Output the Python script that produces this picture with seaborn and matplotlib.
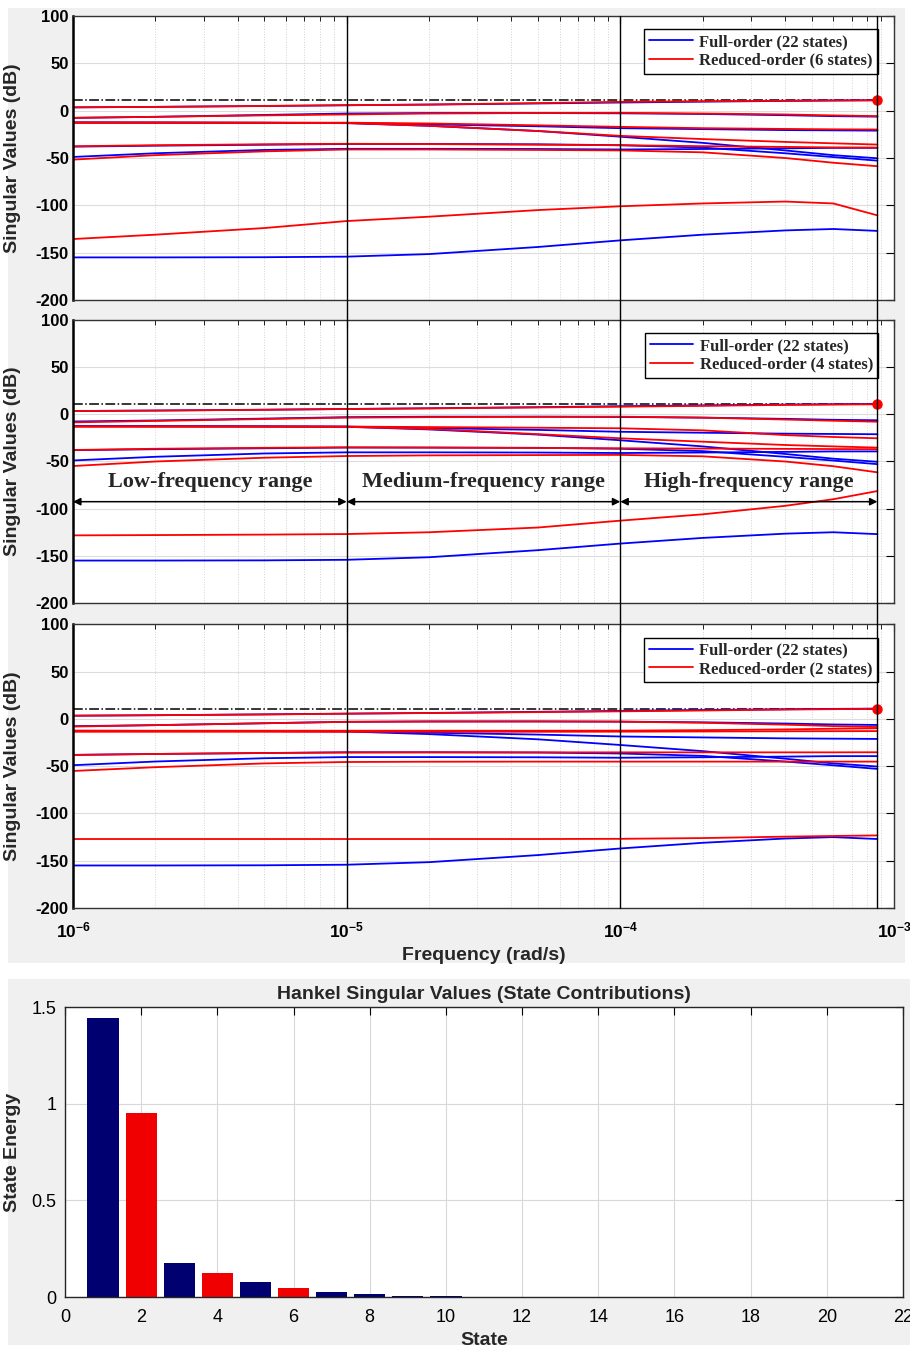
import numpy as np
import pandas as pd
import matplotlib
matplotlib.use("Agg")
import matplotlib.pyplot as plt
import seaborn as sns
from matplotlib.lines import Line2D
from matplotlib.patches import Rectangle
from matplotlib.transforms import blended_transform_factory
from matplotlib.ticker import LogLocator, NullFormatter
from matplotlib.font_manager import FontProperties

# ---------------- data ----------------
freq = [1e-6, 2e-6, 5e-6, 1e-5, 2e-5, 5e-5, 1e-4, 2e-4, 4e-4, 6e-4, 8.7e-4]

# full-order model singular values (dB), same in all three panels
full_sv1 = [3.5, 4.0, 4.9, 5.7, 6.4, 7.6, 8.6, 9.5, 10.3, 10.7, 11.0]
full_sv2 = [-7.6, -6.5, -4.5, -3.0, -2.5, -2.5, -2.8, -3.5, -4.8, -5.8, -6.3]
full_sv3 = [-12.5, -12.6, -12.8, -13.0, -14.5, -16.5, -18.5, -19.5, -20.5, -20.8, -21.1]
full_sv4 = [-12.5, -12.6, -12.8, -13.2, -16.0, -21.5, -27.5, -34.0, -42.0, -47.0, -50.3]
full_sv5 = [-38.0, -37.0, -36.0, -35.2, -35.2, -35.5, -36.5, -39.0, -45.0, -49.0, -52.8]
full_sv6 = [-48.9, -45.0, -41.5, -40.3, -40.3, -40.5, -41.0, -40.5, -39.8, -39.3, -39.3]
full_sv7 = [-155.0, -155.0, -154.8, -154.2, -151.5, -144.0, -137.0, -131.0, -126.5, -125.0, -127.0]

# reduced-order model, 6 states
red6_sv1 = [3.5, 4.0, 5.0, 5.8, 6.5, 8.0, 9.3, 10.0, 10.5, 10.8, 11.0]
red6_sv2 = [-7.6, -6.5, -5.0, -4.0, -3.0, -2.5, -2.3, -3.0, -4.0, -5.0, -5.8]
red6_sv3 = [-12.5, -12.5, -12.6, -12.7, -13.5, -15.5, -17.1, -18.5, -19.3, -19.7, -19.9]
red6_sv4 = [-12.8, -12.8, -12.9, -13.0, -16.0, -21.5, -26.6, -30.0, -33.0, -34.5, -35.8]
red6_sv5 = [-37.6, -36.5, -35.5, -35.0, -35.3, -36.0, -36.5, -37.5, -38.3, -38.8, -39.0]
red6_sv6 = [-51.7, -47.0, -43.0, -41.0, -41.0, -41.5, -42.0, -44.0, -50.0, -55.0, -58.7]
red6_sv7 = [-135.6, -131.0, -124.0, -116.6, -112.0, -105.0, -101.0, -98.0, -96.0, -98.0, -110.6]

# reduced-order model, 4 states
red4_sv1 = [3.5, 4.0, 4.8, 5.6, 6.3, 7.3, 8.1, 9.0, 10.0, 10.4, 10.6]
red4_sv2 = [-8.5, -7.0, -5.0, -3.5, -3.0, -2.6, -2.5, -3.5, -5.5, -6.8, -7.8]
red4_sv3 = [-13.0, -13.0, -13.0, -13.0, -13.5, -14.2, -14.8, -17.0, -22.0, -24.0, -25.4]
red4_sv4 = [-13.0, -13.0, -13.0, -13.2, -15.5, -21.0, -25.4, -29.0, -32.5, -34.0, -35.3]
red4_sv5 = [-37.8, -36.5, -35.5, -35.0, -35.3, -35.7, -36.0, -36.3, -36.6, -36.8, -37.0]
red4_sv6 = [-54.8, -50.0, -46.0, -44.2, -43.5, -43.2, -43.0, -44.5, -50.0, -55.0, -61.5]
red4_sv7 = [-128.3, -128.0, -127.5, -126.9, -125.0, -120.0, -112.7, -106.0, -97.0, -90.0, -81.3]

# reduced-order model, 2 states
red2_sv1 = [3.5, 4.0, 4.8, 5.6, 6.3, 7.3, 8.1, 9.0, 10.0, 10.4, 10.8]
red2_sv2 = [-8.0, -6.5, -4.5, -3.0, -2.8, -2.7, -2.8, -4.0, -6.0, -7.5, -8.5]
red2_sv3 = [-12.4, -12.4, -12.4, -12.4, -12.4, -12.4, -12.3, -11.8, -11.0, -10.3, -9.8]
red2_sv4 = [-13.5, -13.5, -13.5, -13.5, -13.5, -13.5, -13.4, -13.2, -13.0, -12.9, -12.8]
red2_sv5 = [-38.0, -37.0, -36.0, -35.5, -35.3, -35.3, -35.3, -35.3, -35.3, -35.3, -35.2]
red2_sv6 = [-55.0, -51.0, -47.0, -45.5, -45.2, -45.1, -45.1, -45.1, -45.1, -45.1, -45.1]
red2_sv7 = [-127.0, -127.0, -127.0, -127.0, -127.0, -127.0, -126.8, -126.0, -124.5, -123.8, -123.2]

full_order_states = 22
reduced_orders = [6, 4, 2]
peak_gain_db = 11.1
peak_freq = 8.7e-4

range_edges = [1e-6, 1e-5, 1e-4, 8.7e-4]
range_labels = ["Low-frequency range", "Medium-frequency range", "High-frequency range"]
range_arrow_db = -92.6
range_text_db = -71.4

# Hankel singular values
states = list(range(1, 23))
state_energy = [1.443, 0.952, 0.176, 0.122, 0.078, 0.047, 0.025, 0.014, 0.007, 0.003,
                0.002, 0.0015, 0.001, 0.001, 0.0008, 0.0006, 0.0005, 0.0004, 0.0003,
                0.0002, 0.0002, 0.0001]
highlighted_states = [2, 4, 6]

# ---------------- style ----------------
sns.set_style("white")
plt.rcParams["font.family"] = ["Liberation Sans", "DejaVu Sans"]
plt.rcParams["mathtext.fontset"] = "custom"
plt.rcParams["mathtext.rm"] = "Liberation Sans"
plt.rcParams["mathtext.bf"] = "Liberation Sans:bold"

BLUE = "#0000ff"
RED = "#ff0000"
NAVY = "#000070"
BARRED = "#f00000"
BG = "#f0f0f0"

fig = plt.figure(figsize=(9.1, 13.47), dpi=100)
W, H = 910.0, 1347.0

fig.add_artist(Rectangle((8 / W, 1 - 963 / H), 897 / W, 955 / H,
                         transform=fig.transFigure, facecolor=BG, edgecolor="none", zorder=-5))
fig.add_artist(Rectangle((8 / W, 1 - 1345 / H), 902 / W, 366 / H,
                         transform=fig.transFigure, facecolor=BG, edgecolor="none", zorder=-5))

def axes_px(left, top, right, bottom):
    return fig.add_axes([left / W, 1 - bottom / H, (right - left) / W, (bottom - top) / H])

ax1 = axes_px(73, 16, 894, 300)
ax2 = axes_px(73, 320, 894, 603)
ax3 = axes_px(73, 624.5, 894, 908)
ax4 = axes_px(65, 1007, 903, 1297)

full_curves = [full_sv1, full_sv2, full_sv3, full_sv4, full_sv5, full_sv6, full_sv7]
reduced_sets = [
    [red6_sv1, red6_sv2, red6_sv3, red6_sv4, red6_sv5, red6_sv6, red6_sv7],
    [red4_sv1, red4_sv2, red4_sv3, red4_sv4, red4_sv5, red4_sv6, red4_sv7],
    [red2_sv1, red2_sv2, red2_sv3, red2_sv4, red2_sv5, red2_sv6, red2_sv7],
]

legend_font = FontProperties(family="Liberation Serif", weight="bold", size=12)

def long_df(curves, tag):
    rows = []
    for i, sv in enumerate(curves):
        for f, v in zip(freq, sv):
            rows.append({"freq": f, "sv": v, "curve": f"{tag}{i}"})
    return pd.DataFrame(rows)

df_full = long_df(full_curves, "F")

for k, (ax, red_curves, n_red) in enumerate(zip([ax1, ax2, ax3], reduced_sets, reduced_orders)):
    ax.set_xscale("log")
    ax.set_facecolor("white")
    df_red = long_df(red_curves, "R")
    sns.lineplot(data=df_full, x="freq", y="sv", units="curve", estimator=None,
                 color=BLUE, lw=1.3, sort=False, legend=False, ax=ax)
    sns.lineplot(data=df_red, x="freq", y="sv", units="curve", estimator=None,
                 color=RED, lw=1.3, sort=False, legend=False, ax=ax)
    ax.plot([freq[0], peak_freq], [peak_gain_db, peak_gain_db], color="black",
            ls="-.", lw=1.1, zorder=1)
    ax.plot([peak_freq], [peak_gain_db], "o", color=RED, ms=6.5, zorder=4)

    ax.set_xlim(1e-6, 1e-3)
    ax.set_ylim(-200, 100)
    ax.set_yticks([100, 50, 0, -50, -100, -150, -200],
                  labels=["100", "50", "0", "-50", "-100", "-150", "-200"],
                  fontweight="bold", fontsize=12)
    decades = [1e-6, 1e-5, 1e-4, 1e-3]
    if k == 2:
        ax.set_xticks(decades, labels=[r"$\mathbf{10^{-6}}$", r"$\mathbf{10^{-5}}$",
                                       r"$\mathbf{10^{-4}}$", r"$\mathbf{10^{-3}}$"],
                      fontsize=12.5)
        ax.set_xlabel("Frequency (rad/s)", fontsize=14, fontweight="bold", labelpad=5)
    else:
        ax.set_xticks(decades, labels=[])
        ax.set_xlabel("")
    ax.xaxis.set_minor_locator(LogLocator(base=10, subs=np.arange(2, 10), numticks=20))
    ax.xaxis.set_minor_formatter(NullFormatter())
    ax.set_ylabel("Singular Values (dB)", fontsize=14, fontweight="bold")
    ax.yaxis.set_label_coords(-0.063, 0.5)
    ax.tick_params(which="both", direction="in", top=True, right=True, colors="black")
    ax.tick_params(which="major", length=6, width=0.8)
    ax.tick_params(axis="y", which="major", pad=3)
    ax.tick_params(axis="x", which="major", pad=9)
    ax.tick_params(which="minor", length=3.5, width=0.6)
    ax.grid(which="major", axis="y", color="#dcdcdc", lw=0.8, ls="-")
    ax.grid(which="minor", axis="x", color="#d2d2d2", lw=0.7, ls=":")
    for s in ax.spines.values():
        s.set_color("#333333")
        s.set_linewidth(1.0)
    ax.spines["left"].set_color("black")
    ax.spines["left"].set_linewidth(1.8)

    handles = [Line2D([], [], color=BLUE, lw=1.3), Line2D([], [], color=RED, lw=1.3)]
    labels = [f"Full-order ({full_order_states} states)", f"Reduced-order ({n_red} states)"]
    leg = ax.legend(handles, labels, loc="upper right", bbox_to_anchor=(0.9805, 0.954),
                    borderaxespad=0, frameon=True, fancybox=False, edgecolor="black",
                    framealpha=1, prop=legend_font, handlelength=2.6, borderpad=0.3,
                    labelspacing=0.15, handletextpad=0.4)
    leg.get_frame().set_linewidth(1.0)

# frequency-range annotation in the middle panel
serif_bold = FontProperties(family="Liberation Serif", weight="bold", size=16)
for lo, hi, txt in zip(range_edges[:-1], range_edges[1:], range_labels):
    ax2.annotate("", xy=(hi, range_arrow_db), xytext=(lo, range_arrow_db),
                 arrowprops=dict(arrowstyle="<|-|>", color="black", lw=1.1,
                                 shrinkA=0, shrinkB=0, mutation_scale=11))
    ax2.text(np.sqrt(lo * hi), range_text_db, txt, ha="center", va="center",
             fontproperties=serif_bold)

# vertical range boundary lines across all three panels
y_top = ax1.get_position().y1
y_bot = ax3.get_position().y0
trans = blended_transform_factory(ax3.transData, fig.transFigure)
for xf in range_edges[1:]:
    fig.add_artist(Line2D([xf, xf], [y_bot, y_top], transform=trans,
                          color="black", lw=1.0, zorder=6))

# ---------------- Hankel singular values ----------------
bar_df = pd.DataFrame({
    "state": states,
    "energy": state_energy,
    "group": ["hi" if s in highlighted_states else "base" for s in states],
})
sns.barplot(data=bar_df, x="state", y="energy", hue="group", native_scale=True,
            dodge=False, width=0.82, palette={"base": NAVY, "hi": BARRED},
            saturation=1, legend=False, linewidth=0, ax=ax4)
ax4.set_xlim(0, 22)
ax4.set_ylim(0, 1.5)
ax4.set_xticks(range(0, 23, 2), labels=[str(v) for v in range(0, 23, 2)], fontsize=13)
ax4.set_yticks([0, 0.5, 1, 1.5], labels=["0", "0.5", "1", "1.5"], fontsize=13)
ax4.set_xlabel("State", fontsize=14, fontweight="bold", labelpad=4)
ax4.set_ylabel("State Energy", fontsize=14, fontweight="bold")
ax4.yaxis.set_label_coords(-0.0525, 0.5)
ax4.set_title("Hankel Singular Values (State Contributions)", fontsize=14,
              fontweight="bold", pad=6)
ax4.set_facecolor("white")
ax4.set_axisbelow(True)
ax4.grid(True, color="#d8d8d8", lw=0.8)
ax4.tick_params(which="both", direction="in", top=True, right=True, length=6,
                width=0.8, colors="black")
ax4.tick_params(axis="x", pad=9)
ax4.tick_params(axis="y", pad=6)
for s in ax4.spines.values():
    s.set_color("#262626")
    s.set_linewidth(1.0)

fig.savefig("out.png", dpi=100)
